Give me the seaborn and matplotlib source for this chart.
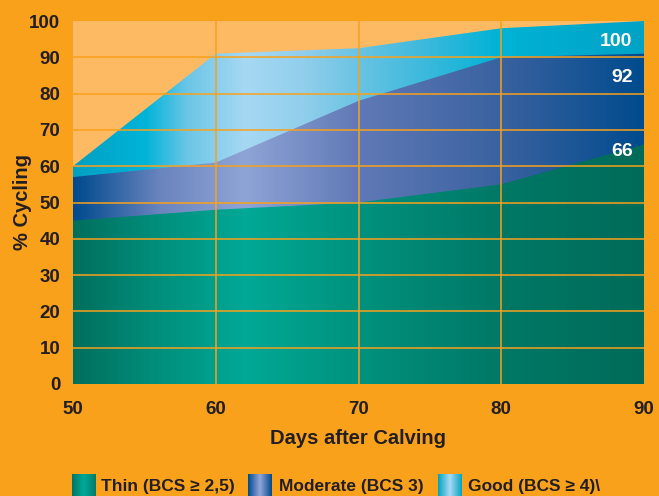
import numpy as np
import pandas as pd
import matplotlib
matplotlib.use("Agg")
import matplotlib.pyplot as plt
from matplotlib.colors import LinearSegmentedColormap
import seaborn as sns

# ---- data ----
days = [50, 60, 70, 80, 90]
thin = [45, 48, 50, 55, 66]
moderate = [57, 61, 78, 90, 91]
good = [60, 91, 92.5, 98, 100]
series_names = ["Thin (BCS \u2265 2,5)", "Moderate (BCS 3)", "Good (BCS \u2265 4)\\"]
end_labels = ["66", "92", "100"]
y_ticks = list(range(0, 101, 10))
x_ticks = [50, 60, 70, 80, 90]

# ---- style ----
sns.set_style("white")
plt.rcParams['font.family'] = ['Liberation Sans', 'DejaVu Sans']
plt.rcParams['font.weight'] = 'bold'

OUTER = "#F9A11B"
INNER = "#FDBA63"
TXT = "#231F20"

grad_stops = {
    "thin": [(50, "#006F5D"), (55, "#008B78"), (62, "#00A996"), (70, "#00927E"),
             (80, "#007866"), (90, "#006B59")],
    "moderate": [(50, "#004A8E"), (56, "#6A84BE"), (62, "#8FA4D6"), (70, "#6079B6"),
                 (80, "#3A62A0"), (90, "#004B8D")],
    "good": [(50, "#00A0C2"), (55, "#00B4D8"), (58, "#6CC6E7"), (62, "#A6D8F3"),
             (66, "#92CFEC"), (70, "#6AC3E3"), (75, "#38B9DC"), (80, "#00B2D5"),
             (90, "#00A3C6")],
}

def make_cmap(stops):
    lo, hi = stops[0][0], stops[-1][0]
    return LinearSegmentedColormap.from_list(
        "g", [((x - lo) / (hi - lo), c) for x, c in stops])

fig = plt.figure(figsize=(6.59, 4.96), dpi=100, facecolor=OUTER)
ax = fig.add_axes([73 / 659, 1 - 384 / 496, (644 - 73) / 659, (384 - 21) / 496])
ax.set_facecolor(INNER)

df = pd.DataFrame({
    "days": days * 3,
    "value": thin + moderate + good,
    "series": ["thin"] * 5 + ["moderate"] * 5 + ["good"] * 5,
})
sns.lineplot(data=df, x="days", y="value", hue="series", ax=ax,
             linewidth=0, legend=False)

grad = np.linspace(0, 1, 600).reshape(1, -1)
for key, vals, z in [("good", good, 1), ("moderate", moderate, 2), ("thin", thin, 3)]:
    poly = ax.fill_between(days, 0, vals, facecolor="none", edgecolor="none")
    im = ax.imshow(grad, cmap=make_cmap(grad_stops[key]), aspect="auto",
                   extent=[50, 90, 0, 100], origin="lower", zorder=z,
                   interpolation="bilinear")
    path = poly.get_paths()[0]
    im.set_clip_path(path, transform=ax.transData)

ax.set_xlim(50, 90)
ax.set_ylim(0, 100)
ax.set_xticks(x_ticks)
ax.set_yticks(y_ticks)
for v in y_ticks[1:-1]:
    ax.axhline(v, color=OUTER, lw=1.1, zorder=5)
for v in x_ticks[1:-1]:
    ax.axvline(v, color=OUTER, lw=1.1, zorder=5)
for s in ax.spines.values():
    s.set_visible(False)
ax.tick_params(length=0, labelsize=13.5, labelcolor=TXT, pad=9)
ax.tick_params(axis="x", pad=12)
for lab in ax.get_xticklabels() + ax.get_yticklabels():
    lab.set_fontweight("bold")

ax.set_xlabel("Days after Calving", fontsize=14.5, fontweight="bold", color=TXT)
ax.set_ylabel("% Cycling", fontsize=14.5, fontweight="bold", color=TXT)
ax.xaxis.set_label_coords(0.5, -0.125)
ax.yaxis.set_label_coords(-0.072, 0.5)

for lab, y in zip(end_labels, [64, 84.5, 94.3]):
    ax.text(89.2, y, lab, ha="right", va="center", color="white",
            fontsize=14, fontweight="bold", zorder=6)

# legend with gradient swatches
leg_pos = [(72, 101, "thin"), (248, 279, "moderate"), (438, 468, "good")]
sw_stops = {
    "thin": ["#007563", "#00AA9A", "#007A68"],
    "moderate": ["#004A8E", "#93A6D8", "#004A8E"],
    "good": ["#00A3C4", "#A8D9F3", "#00A3C4"],
}
for (x0, xt, key), name in zip(leg_pos, series_names):
    sax = fig.add_axes([x0 / 659, 0, 24 / 659, 22 / 496])
    sax.imshow(grad, cmap=LinearSegmentedColormap.from_list("s", sw_stops[key]),
               aspect="auto", extent=[0, 1, 0, 1])
    sax.set_axis_off()
    fig.text(xt / 659, 1 - 486 / 496, name, ha="left", va="center",
             fontsize=12.5, fontweight="bold", color=TXT)

fig.savefig("out.png", dpi=100, facecolor=OUTER)
